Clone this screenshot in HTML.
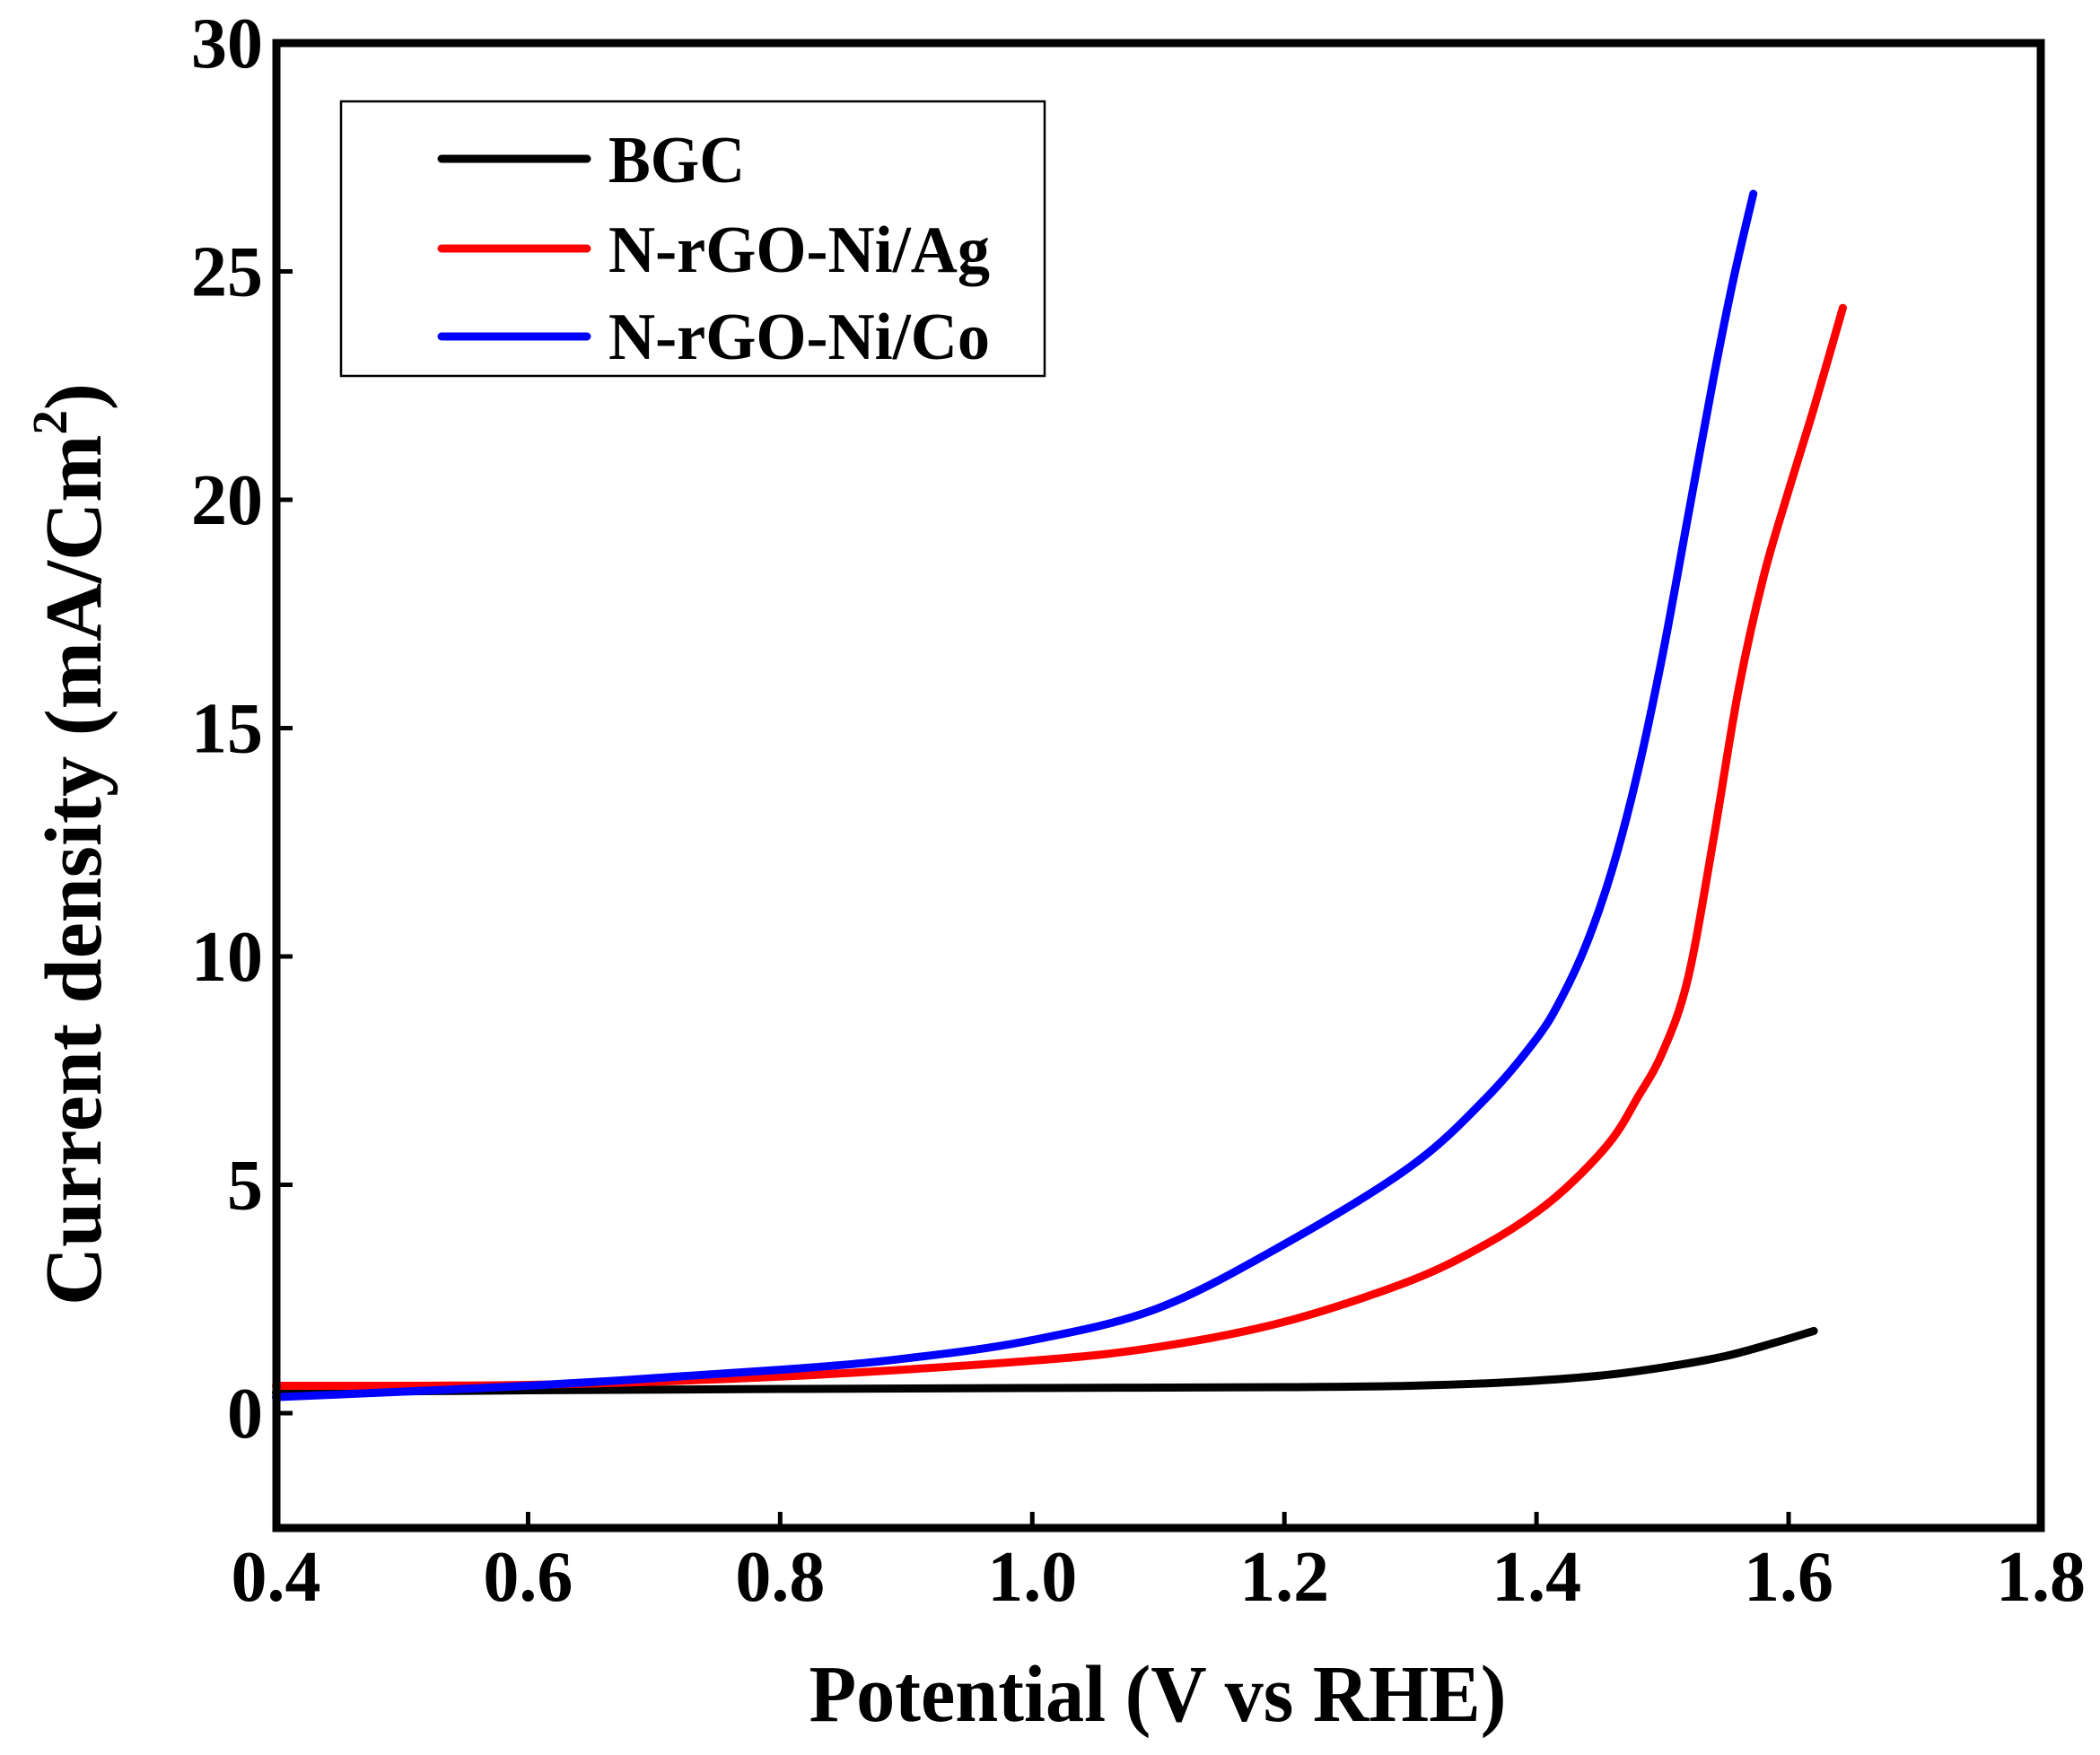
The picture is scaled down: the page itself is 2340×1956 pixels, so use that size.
<!DOCTYPE html>
<html><head><meta charset="utf-8"><style>
html,body{margin:0;padding:0;background:#fff;}
svg text{font-family:"Liberation Serif",serif;font-weight:bold;fill:#000;}
</style></head><body>
<svg id="s" width="2340" height="1951" viewBox="0 0 2340 1951" xmlns="http://www.w3.org/2000/svg">
<rect width="2340" height="1951" fill="#fff"/>
<g id="ticks" stroke="#000" stroke-width="5"></g>
<g id="curves" fill="none" stroke-width="9" stroke-linecap="round" stroke-linejoin="round"></g>
<rect x="308" y="48" width="1966" height="1655" fill="none" stroke="#000" stroke-width="9"/>
<rect x="380" y="113" width="784" height="306" fill="none" stroke="#000" stroke-width="2.5"/>
<line x1="492" y1="177" x2="654" y2="177" stroke="#000" stroke-width="9" stroke-linecap="round"/>
<line x1="492" y1="277" x2="654" y2="277" stroke="#ff0000" stroke-width="9" stroke-linecap="round"/>
<line x1="492" y1="375" x2="654" y2="375" stroke="#0000ff" stroke-width="9" stroke-linecap="round"/>
<text x="678" y="203" font-size="74" textLength="152" lengthAdjust="spacingAndGlyphs">BGC</text>
<text x="678" y="303" font-size="74" textLength="425" lengthAdjust="spacingAndGlyphs">N-rGO-Ni/Ag</text>
<text x="678" y="400" font-size="74" textLength="425" lengthAdjust="spacingAndGlyphs">N-rGO-Ni/Co</text>
<g id="labels" font-size="80"></g>
<text x="1290" y="1918" font-size="90" text-anchor="middle" textLength="777" lengthAdjust="spacingAndGlyphs">Potential (V vs RHE)</text>
<text transform="translate(112,941) rotate(-90)" font-size="90" text-anchor="middle" textLength="1028" lengthAdjust="spacingAndGlyphs">Current density (mA/Cm<tspan font-size="55" dy="-38">2</tspan><tspan dy="38">)</tspan></text>
</svg>
<script>
const NS="http://www.w3.org/2000/svg";
const X=v=>307.5+(v-0.4)*1404.6, Y=v=>48+(30-v)*50.9;
const tk=document.getElementById('ticks'), lb=document.getElementById('labels');
function el(p,t,a,txt){const e=document.createElementNS(NS,t);for(const k in a)e.setAttribute(k,a[k]);if(txt)e.textContent=txt;p.appendChild(e);}
for(let i=0;i<=7;i++){const v=0.4+i*0.2,x=X(v);
 if(i>0&&i<7)el(tk,'line',{x1:x,y1:1703,x2:x,y2:1685});
 el(lb,'text',{x:x,y:1784,'text-anchor':'middle'},v.toFixed(1));}
for(let v=0;v<=30;v+=5){const y=Y(v);
 if(v<30)el(tk,'line',{x1:308,y1:y,x2:326,y2:y});
 el(lb,'text',{x:293,y:y+27,'text-anchor':'end'},String(v));}
function path(d){const p=d.map(a=>[X(a[0]),Y(a[1])]);let s='M'+p[0][0]+','+p[0][1];
 for(let i=0;i<p.length-1;i++){const p0=p[Math.max(i-1,0)],p1=p[i],p2=p[i+1],p3=p[Math.min(i+2,p.length-1)];
 s+=' C'+(p1[0]+(p2[0]-p0[0])/6)+','+(p1[1]+(p2[1]-p0[1])/6)+' '+(p2[0]-(p3[0]-p1[0])/6)+','+(p2[1]-(p3[1]-p1[1])/6)+' '+p2[0]+','+p2[1];}
 return s;}
const cv=document.getElementById('curves');
const bgc=[[0.4,0.45],[0.6,0.5],[0.8,0.53],[1.0,0.55],[1.2,0.57],[1.3,0.6],[1.38,0.68],[1.45,0.82],[1.5,1.0],[1.55,1.25],[1.59,1.55],[1.62,1.8]];
const red=[[0.4,0.6],[0.6,0.62],[0.8,0.8],[1.0,1.15],[1.1,1.45],[1.2,2.0],[1.3,2.9],[1.36,3.7],[1.4,4.4],[1.43,5.1],[1.46,6.0],[1.48,6.9],[1.5,7.9],[1.52,9.5],[1.54,12.5],[1.56,15.8],[1.58,18.3],[1.6,20.2],[1.62,22],[1.643,24.2]];
const blue=[[0.4,0.35],[0.6,0.6],[0.8,0.95],[0.9,1.2],[1.0,1.6],[1.1,2.3],[1.2,3.7],[1.3,5.4],[1.36,6.9],[1.4,8.2],[1.42,9.1],[1.44,10.3],[1.46,11.9],[1.48,14.0],[1.5,16.6],[1.52,19.6],[1.54,22.6],[1.556,24.8],[1.572,26.7]];
el(cv,'path',{d:path(bgc),stroke:'#000'});
el(cv,'path',{d:path(red),stroke:'#ff0000'});
el(cv,'path',{d:path(blue),stroke:'#0000ff'});
</script>
</body></html>
